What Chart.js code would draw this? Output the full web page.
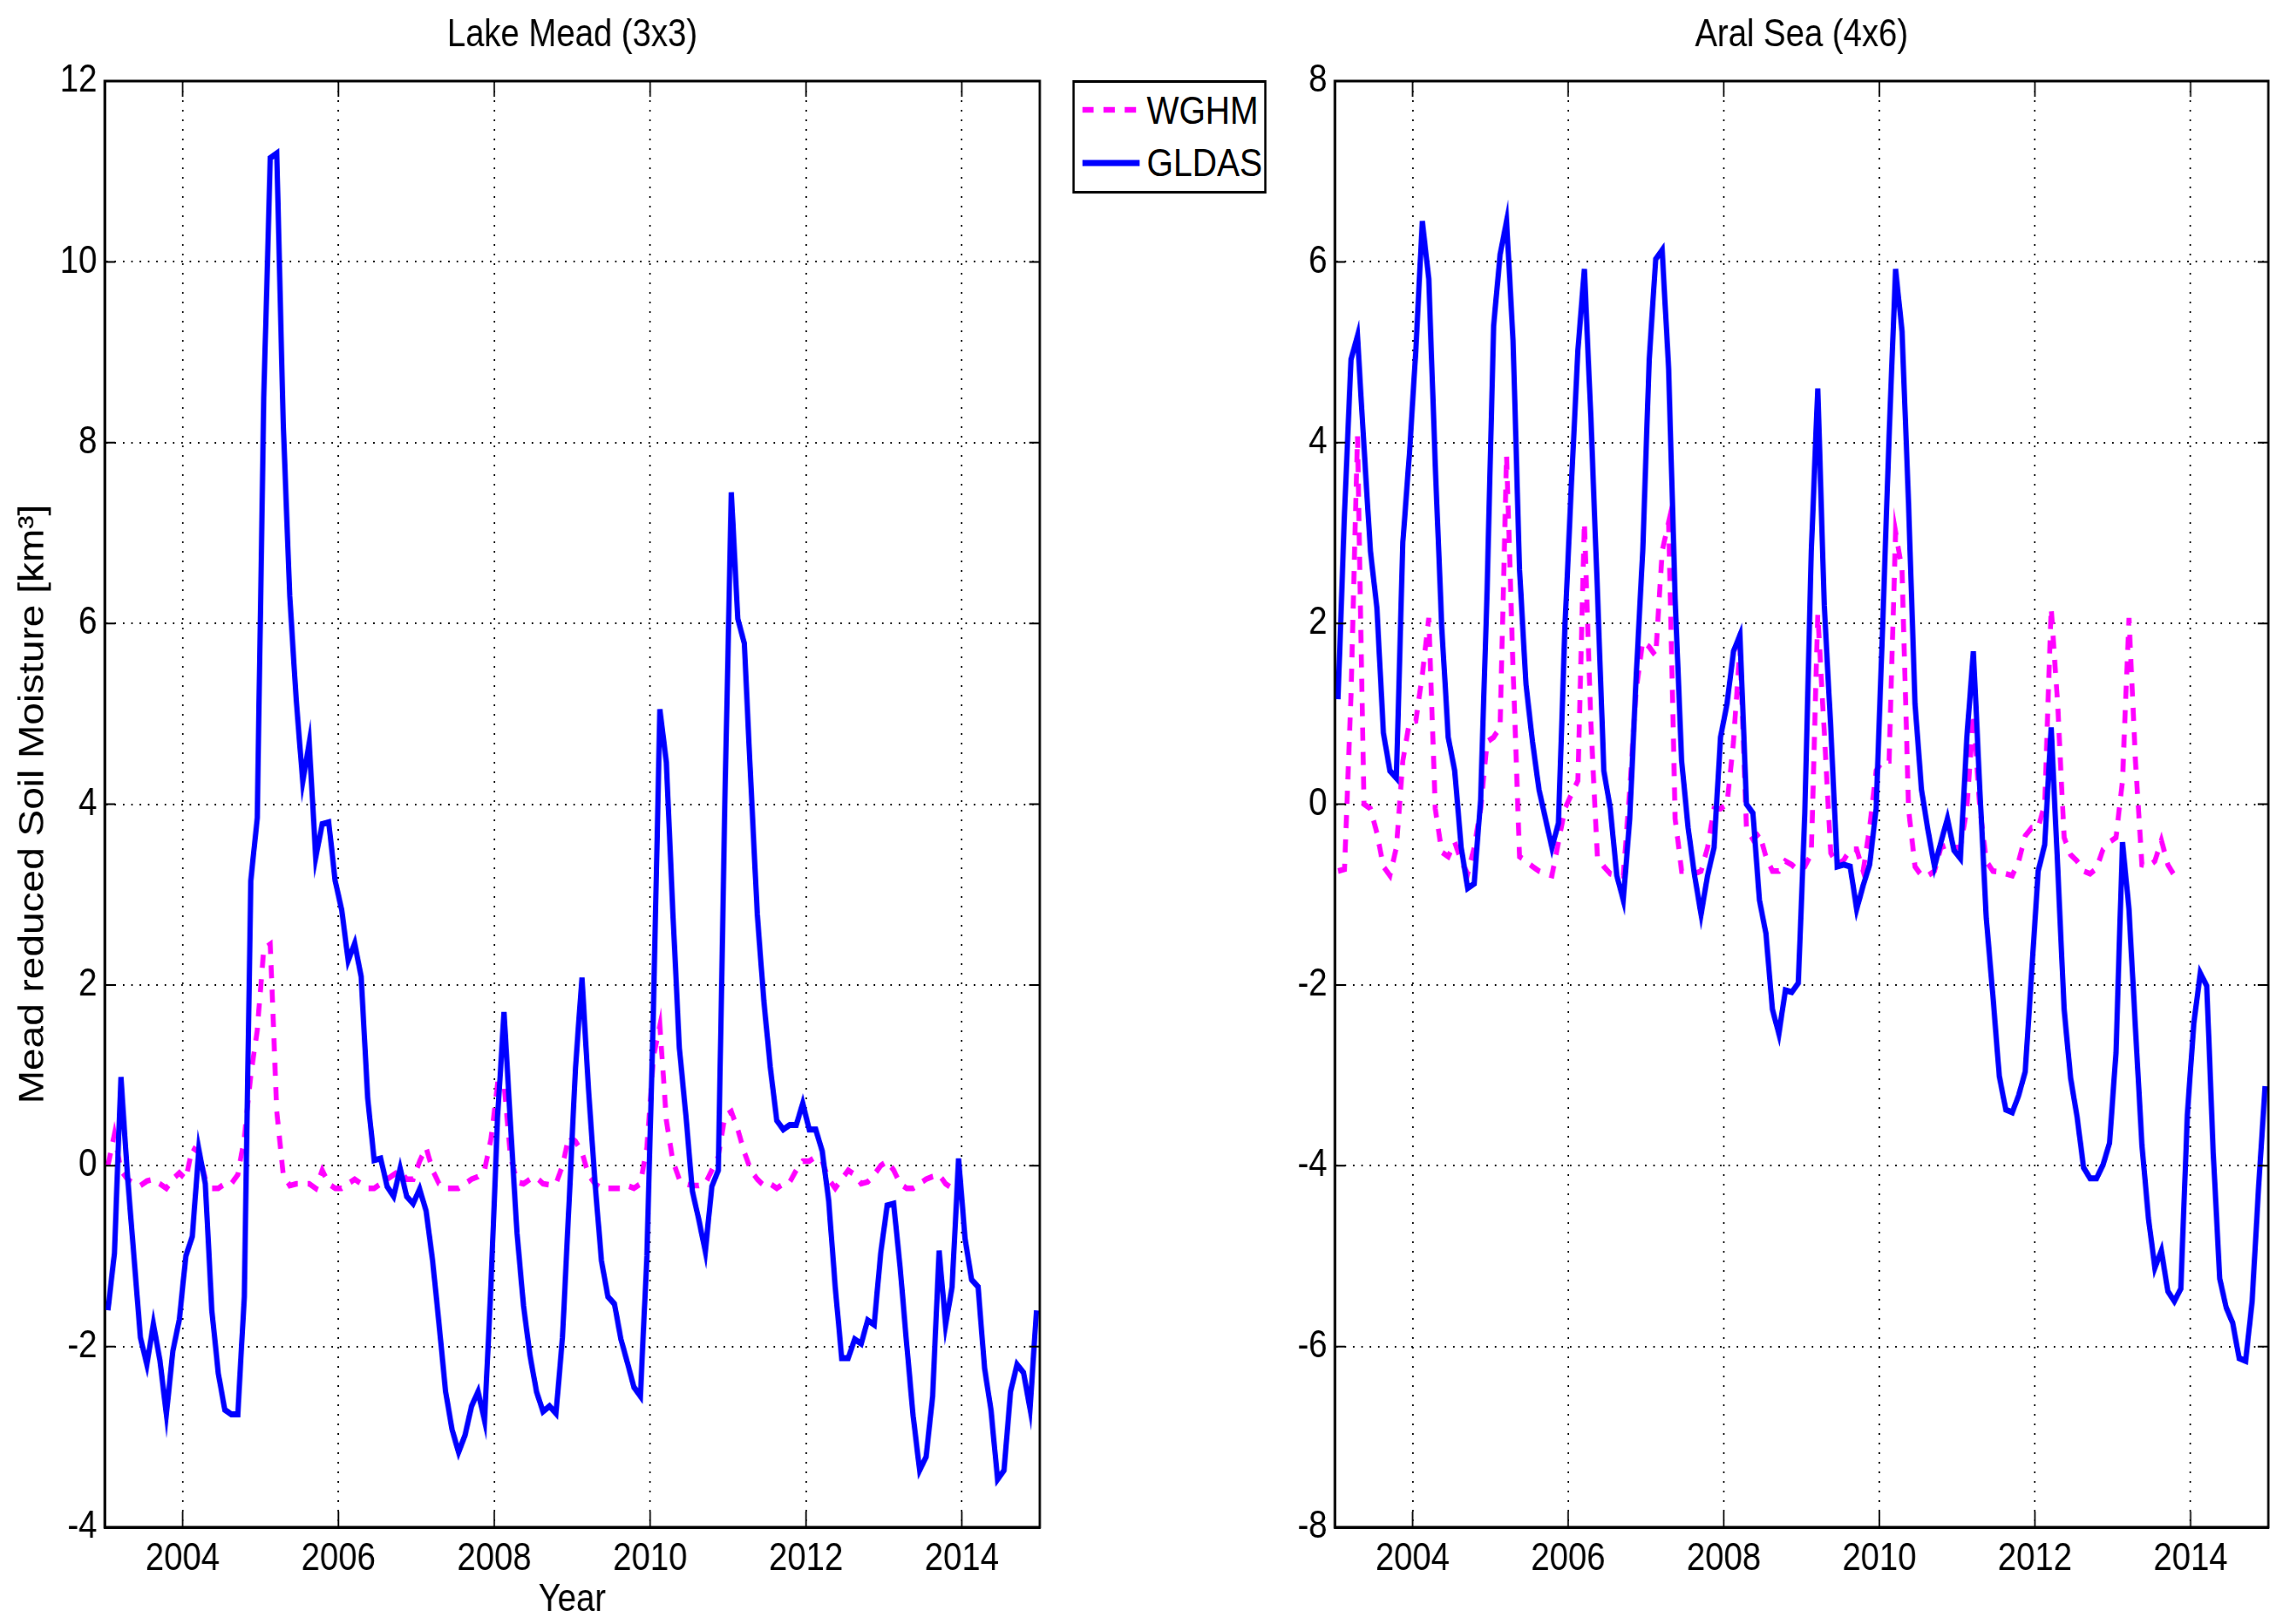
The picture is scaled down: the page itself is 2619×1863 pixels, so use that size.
<!DOCTYPE html>
<html>
<head>
<meta charset="utf-8">
<title>Lake Mead / Aral Sea soil moisture</title>
<script src="https://cdn.jsdelivr.net/npm/chart.js@4.4.1/dist/chart.umd.min.js"></script>
<style>
  html, body { margin: 0; padding: 0; background: #fff; }
  body { width: 2619px; height: 1863px; position: relative; overflow: hidden; }
  /* the original figure is squeezed horizontally, so lay out wider and compress */
  #stage { position: absolute; left: 0; top: 0; width: 3010px; height: 1863px; transform: scaleX(0.87); transform-origin: 0 0; }
  canvas { position: absolute; top: 0; }
  #meadChart { left: 0; }
  #aralChart { left: 1609px; }
  #legend {
    position: absolute; left: 1414px; top: 92px; width: 256px; height: 130px;
    border: 3px solid #000; box-sizing: border-box; background: #fff; z-index: 2;
    font-family: 'Liberation Sans', Arial, sans-serif; font-size: 45px; color: #000;
  }
  .legend-row { position: absolute; left: 10px; width: 240px; height: 46px; }
  .legend-row svg { position: absolute; left: 0; top: 0; }
  .legend-row span { position: absolute; left: 85px; top: 0; line-height: 46px; white-space: nowrap; }
</style>
</head>
<body>
<div id="stage">
  <canvas id="meadChart" width="1408" height="1863"></canvas>
  <canvas id="aralChart" width="1402" height="1863"></canvas>
  <div id="legend"></div>
</div>

<script>
/* two MATLAB-style panels: monthly soil moisture, WGHM vs GLDAS */

const startYear = 2003;
const yearTicks = [2004, 2006, 2008, 2010, 2012, 2014];
const meadTicks = [-4, -2, 0, 2, 4, 6, 8, 10, 12];
const aralTicks = [-8, -6, -4, -2, 0, 2, 4, 6, 8];

// Lake Mead (3x3), Jan 2003 .. Dec 2014
const meadGldas = [
  -1.60, -0.97, 0.98, -0.10, -1.00, -1.90, -2.20, -1.75, -2.15, -2.75, -2.05, -1.70,
  -1.00, -0.78, 0.18, -0.20, -1.60, -2.30, -2.70, -2.75, -2.75, -1.45, 3.15, 3.85,
  8.50, 11.15, 11.20, 8.20, 6.30, 5.15, 4.25, 4.68, 3.41, 3.78, 3.80, 3.15,
  2.83, 2.27, 2.46, 2.09, 0.75, 0.06, 0.08, -0.23, -0.34, -0.03, -0.34, -0.42,
  -0.26, -0.50, -1.05, -1.76, -2.50, -2.92, -3.17, -2.98, -2.66, -2.50, -2.82, -1.30,
  0.53, 1.70, 0.45, -0.75, -1.55, -2.10, -2.50, -2.72, -2.66, -2.74, -1.90, -0.43,
  1.08, 2.08, 0.85, -0.18, -1.05, -1.45, -1.53, -1.92, -2.18, -2.45, -2.55, -1.00,
  1.70, 5.05, 4.46, 2.80, 1.30, 0.56, -0.28, -0.60, -0.95, -0.23, -0.05, 4.00,
  7.45, 6.05, 5.78, 4.25, 2.78, 1.83, 1.09, 0.50, 0.40, 0.45, 0.45, 0.69,
  0.40, 0.40, 0.16, -0.39, -1.34, -2.13, -2.13, -1.92, -1.97, -1.71, -1.76, -0.97,
  -0.44, -0.42, -1.13, -1.97, -2.77, -3.37, -3.22, -2.55, -0.94, -1.76, -1.34, 0.08,
  -0.81, -1.26, -1.34, -2.24, -2.71, -3.47, -3.37, -2.50, -2.20, -2.29, -2.69, -1.60
];
// Jan 2003 .. Nov 2013
const meadWghm = [
  0.00, 0.35, -0.05, -0.15, -0.20, -0.22, -0.17, -0.15, -0.20, -0.25, -0.15, -0.08,
  -0.15, 0.20, 0.15, -0.15, -0.25, -0.25, -0.20, -0.20, -0.10, 0.30, 1.00, 1.50,
  2.40, 2.45, 0.60, -0.10, -0.22, -0.20, -0.20, -0.20, -0.25, -0.05, -0.20, -0.25,
  -0.25, -0.20, -0.15, -0.20, -0.25, -0.25, -0.20, -0.15, -0.10, -0.05, -0.15, -0.15,
  0.05, 0.20, -0.05, -0.20, -0.25, -0.25, -0.25, -0.20, -0.15, -0.12, -0.05, 0.30,
  0.90, 0.90, 0.10, -0.18, -0.20, -0.15, -0.13, -0.20, -0.21, -0.20, 0.00, 0.33,
  0.27, 0.15, -0.10, -0.20, -0.25, -0.25, -0.25, -0.25, -0.22, -0.25, -0.20, 0.20,
  1.20, 1.55, 0.50, 0.05, -0.15, -0.20, -0.22, -0.22, -0.20, -0.05, 0.10, 0.55,
  0.60, 0.40, 0.15, -0.05, -0.15, -0.22, -0.20, -0.25, -0.20, -0.18, -0.05, 0.05,
  0.05, 0.10, 0.05, -0.15, -0.25, -0.15, -0.05, -0.10, -0.20, -0.18, -0.10, 0.00,
  0.05, -0.05, -0.20, -0.25, -0.25, -0.20, -0.15, -0.12, -0.10, -0.20, -0.25
];

// Aral Sea (4x6)
const aralGldas = [
  1.16, 3.22, 4.92, 5.18, 3.96, 2.80, 2.17, 0.79, 0.37, 0.29, 2.90, 3.86,
  5.02, 6.45, 5.81, 3.75, 1.96, 0.74, 0.37, -0.48, -0.93, -0.88, 0.05, 2.38,
  5.29, 6.08, 6.45, 5.13, 2.59, 1.32, 0.69, 0.16, -0.16, -0.48, -0.21, 1.96,
  3.54, 5.02, 5.92, 4.28, 2.38, 0.37, -0.05, -0.79, -1.06, -0.16, 1.43, 2.80,
  4.92, 6.03, 6.13, 4.81, 2.27, 0.48, -0.26, -0.79, -1.22, -0.79, -0.48, 0.74,
  1.11, 1.69, 1.87, 0.00, -0.10, -1.06, -1.43, -2.27, -2.54, -2.06, -2.08, -1.98,
  -0.10, 2.80, 4.60, 2.20, 0.85, -0.69, -0.67, -0.69, -1.16, -0.90, -0.67, -0.05,
  1.96, 4.07, 5.92, 5.23, 3.33, 1.11, 0.16, -0.29, -0.69, -0.42, -0.16, -0.51,
  -0.60, 0.74, 1.69, 0.16, -1.27, -2.11, -3.01, -3.38, -3.41, -3.22, -2.96, -1.85,
  -0.74, -0.45, 0.85, -0.69, -2.27, -3.03, -3.46, -4.02, -4.14, -4.14, -3.99, -3.75,
  -2.75, -0.42, -1.16, -2.48, -3.77, -4.58, -5.13, -4.94, -5.39, -5.50, -5.36, -3.44,
  -2.43, -1.87, -2.01, -3.86, -5.25, -5.57, -5.74, -6.13, -6.16, -5.50, -4.23, -3.12
];
const aralWghm = [
  -0.74, -0.72, 1.20, 4.07, 0.00, -0.05, -0.32, -0.69, -0.79, -0.48, 0.48, 0.90,
  0.92, 1.43, 2.06, -0.05, -0.53, -0.58, -0.42, -0.63, -0.77, -0.48, -0.05, 0.69,
  0.74, 0.85, 3.86, 1.50, -0.58, -0.63, -0.69, -0.74, -0.77, -0.79, -0.42, -0.05,
  0.11, 0.26, 3.12, 0.90, -0.58, -0.69, -0.77, -0.79, -0.79, 0.16, 1.27, 1.80,
  1.74, 1.64, 2.80, 3.12, -0.16, -0.74, -0.74, -0.77, -0.74, -0.48, -0.05, -0.05,
  0.00, 0.69, 1.74, -0.26, -0.39, -0.32, -0.58, -0.74, -0.74, -0.63, -0.67, -0.74,
  -0.69, -0.55, 2.10, 0.80, -0.54, -0.67, -0.62, -0.50, -0.50, -0.74, -0.26, 0.37,
  0.48, 0.48, 3.01, 2.59, -0.05, -0.69, -0.79, -0.79, -0.74, -0.48, -0.45, -0.48,
  -0.48, -0.05, 1.00, -0.05, -0.63, -0.74, -0.75, -0.77, -0.79, -0.63, -0.35, -0.26,
  -0.26, 0.00, 2.17, 1.11, -0.37, -0.56, -0.63, -0.74, -0.77, -0.71, -0.50, -0.42,
  -0.37, 0.26, 2.06, 0.48, -0.67, -0.69, -0.63, -0.40, -0.67, -0.79, -0.74
];

const FONT = "'Liberation Sans', Arial, sans-serif";

// mid-month position of sample i
const toPoints = (vals) => vals.map((v, i) => ({ x: startYear + (i + 0.5) / 12, y: v }));

// box around the axes plus inward tick marks on all four sides
const matlabBox = {
  id: "matlabBox",
  afterDatasetsDraw(chart) {
    const { ctx, chartArea: a, scales: { x, y } } = chart;
    ctx.save();
    ctx.strokeStyle = "#000";
    ctx.lineWidth = 2;
    ctx.beginPath();
    x.ticks.forEach((t) => {
      const px = x.getPixelForValue(t.value);
      ctx.moveTo(px, a.bottom); ctx.lineTo(px, a.bottom - 18);
      ctx.moveTo(px, a.top); ctx.lineTo(px, a.top + 18);
    });
    y.ticks.forEach((t) => {
      const py = y.getPixelForValue(t.value);
      ctx.moveTo(a.left, py); ctx.lineTo(a.left + 14, py);
      ctx.moveTo(a.right, py); ctx.lineTo(a.right - 14, py);
    });
    ctx.stroke();
    ctx.lineWidth = 3;
    ctx.strokeRect(a.left, a.top, a.right - a.left, a.bottom - a.top);
    ctx.restore();
  },
};

function renderPanel(canvasId, p) {
  const ctx = document.getElementById(canvasId);
  if (!ctx) return null;
  const tickFont = { family: FONT, size: 44, lineHeight: 1.2 };
  return new Chart(ctx, {
    type: "line",
    data: {
      datasets: [
        { label: "WGHM", data: toPoints(p.wghm), borderColor: "#FF00FF", borderWidth: 6.5, borderDash: [15, 13], pointRadius: 0, tension: 0, fill: false, order: 1 },
        { label: "GLDAS", data: toPoints(p.gldas), borderColor: "#0000FF", borderWidth: 7, pointRadius: 0, tension: 0, fill: false, order: 0 },
      ],
    },
    options: {
      responsive: false,
      animation: false,
      events: [],
      layout: { autoPadding: false, padding: { left: 0, right: p.padRight, top: 0, bottom: 0 } },
      plugins: {
        legend: { display: false },
        tooltip: { enabled: false },
        title: {
          display: true, text: p.title, fullSize: false, color: "#000",
          font: { family: FONT, size: 44, weight: "normal", lineHeight: 1.2 },
          padding: { top: 14, bottom: 26.2 },
        },
      },
      scales: {
        x: {
          type: "linear", min: 2003, max: 2015,
          afterBuildTicks: (s) => { s.ticks = yearTicks.map((v) => ({ value: v })); },
          afterFit: (s) => { s.height = 111; },
          grid: { color: "#000", lineWidth: 2, drawTicks: false },
          border: { color: "#000", width: 3, dash: [2, 9] },
          ticks: { color: "#000", padding: 10, maxRotation: 0, autoSkip: false, font: tickFont, callback: (v) => String(v) },
          title: { display: !!p.xTitle, text: p.xTitle || "", color: "#000", font: tickFont, padding: { top: 0, bottom: 1 } },
        },
        y: {
          type: "linear", min: p.yTicks[0], max: p.yTicks[p.yTicks.length - 1],
          afterBuildTicks: (s) => { s.ticks = p.yTicks.map((v) => ({ value: v })); },
          afterFit: (s) => { s.width = p.yWidth; },
          grid: { color: "#000", lineWidth: 2, drawTicks: false },
          border: { color: "#000", width: 3, dash: [2, 9] },
          ticks: { color: "#000", padding: 10, autoSkip: false, font: tickFont, callback: (v) => String(v) },
          title: { display: !!p.yTitle, text: p.yTitle || "", color: "#000", font: { family: FONT, size: 46, lineHeight: 1.2 }, padding: { top: 17, bottom: 0 } },
        },
      },
    },
    plugins: [matlabBox],
  });
}

function buildLegend(chart) {
  const box = document.getElementById("legend");
  chart.data.datasets.forEach((ds, k) => {
    const row = document.createElement("div");
    row.className = "legend-row";
    row.style.top = (9 + k * 60) + "px";
    const dash = (ds.borderDash || []).join(" ");
    row.innerHTML =
      `<svg width="76" height="46"><line x1="0" y1="${22 + k}" x2="76" y2="${22 + k}" stroke="${ds.borderColor}" stroke-width="${ds.borderWidth}" ${dash ? `stroke-dasharray="${dash}"` : ""}/></svg>` +
      `<span>${ds.label}</span>`;
    box.appendChild(row);
  });
}

const meadChart = renderPanel("meadChart", {
  title: "Lake Mead (3x3)", gldas: meadGldas, wghm: meadWghm, yTicks: meadTicks,
  yTitle: "Mead reduced Soil Moisture [km\u00B3]", xTitle: "Year", yWidth: 138, padRight: 37,
});
renderPanel("aralChart", {
  title: "Aral Sea (4x6)", gldas: aralGldas, wghm: aralWghm, yTicks: aralTicks,
  yWidth: 151, padRight: 20,
});
if (meadChart) buildLegend(meadChart);
</script>
</body>
</html>
